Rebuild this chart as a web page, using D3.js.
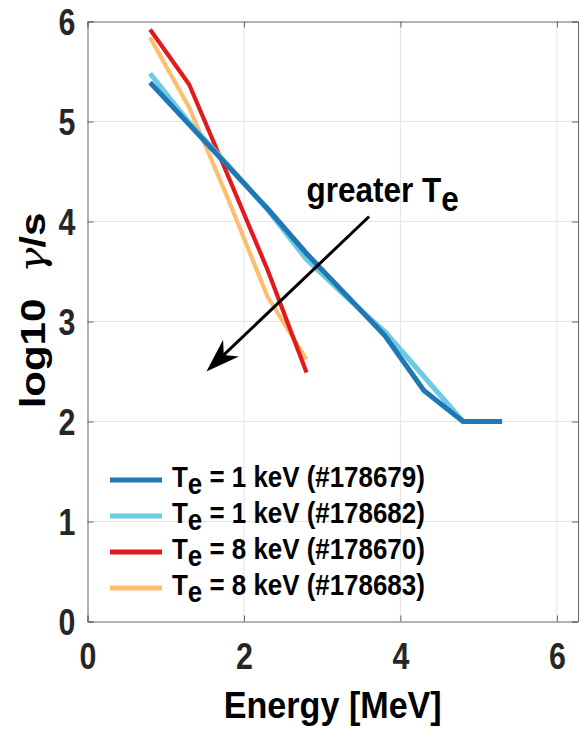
<!DOCTYPE html>
<html>
<head>
<meta charset="utf-8">
<script src="https://cdn.jsdelivr.net/npm/d3@7"></script>
<style>
  html, body { margin: 0; padding: 0; background: #fff; }
  svg { display: block; }
  text { font-family: "Liberation Sans", Arial, sans-serif; font-weight: bold; }
</style>
</head>
<body>
<svg id="chart" width="579" height="729"></svg>
<script>
// Energy grid [MeV] shared by all runs
const energy = [0.8, 1.3, 1.8, 2.3, 2.8, 3.3, 3.8, 4.3, 4.8, 5.3];

// log10 of gamma emission rate [1/s] per shot
const shot178679 = [5.39, 4.97, 4.55, 4.13, 3.68, 3.27, 2.86, 2.31, 2.00, 2.00];
const shot178682 = [5.48, 4.99, 4.56, 4.12, 3.62, 3.25, 2.90, 2.45, 2.00];
const shot178670 = [5.92, 5.37, 4.45, 3.52, 2.49];
const shot178683 = [5.84, 5.14, 4.22, 3.25, 2.62];

const seriesNames = ["(#178679)", "(#178682)", "(#178670)", "(#178683)"];
const seriesTe = ["1", "1", "8", "8"];
const seriesColors = ["#1f78b4", "#6ccae2", "#e31a1c", "#fdbf6f"];

const xTicks = [0, 2, 4, 6];
const yTicks = [0, 1, 2, 3, 4, 5, 6];

// Arrow annotation, data coordinates [E, log10]
const arrowTail = [3.60, 4.05];
const arrowTip = [1.52, 2.50];
const noteAnchor = [2.80, 4.20];

const series = [
  { name: seriesNames[0], te: seriesTe[0], color: seriesColors[0], ys: shot178679, w: 5 },
  { name: seriesNames[1], te: seriesTe[1], color: seriesColors[1], ys: shot178682, w: 5 },
  { name: seriesNames[2], te: seriesTe[2], color: seriesColors[2], ys: shot178670, w: 4.2 },
  { name: seriesNames[3], te: seriesTe[3], color: seriesColors[3], ys: shot178683, w: 4.2 }
];

const svg = d3.select("#chart");
const W = 579, H = 729;
const m = { left: 87.5, right: 1, top: 21.5, bottom: 107.5 };
const pw = W - m.left - m.right, ph = H - m.top - m.bottom;
const xMax = 6.27;

const x = d3.scaleLinear().domain([0, xMax]).range([m.left, m.left + pw]);
const y = d3.scaleLinear().domain([0, 6]).range([m.top + ph, m.top]);

// text squeezed horizontally to a given width (condensed look)
function condensedText(parent, px, py, size, anchor, width, build) {
  const g = parent.append("g");
  const t = g.append("text").attr("text-anchor", anchor).attr("fill", "#000")
    .style("font-size", size + "px");
  build(t);
  const w = t.node().getComputedTextLength();
  const sx = width / w;
  g.attr("transform", `translate(${px},${py}) scale(${sx},1)`);
  return g;
}

// grid
const grid = svg.append("g");
grid.selectAll("line.gx").data(xTicks.filter(d => d > 0)).join("line")
  .attr("x1", d => x(d)).attr("x2", d => x(d))
  .attr("y1", y(0)).attr("y2", y(6))
  .attr("stroke", "#e4e4e4").attr("stroke-width", 1);
grid.selectAll("line.gy").data(yTicks.filter(d => d > 0 && d < 6)).join("line")
  .attr("x1", x(0)).attr("x2", x(xMax))
  .attr("y1", d => y(d)).attr("y2", d => y(d))
  .attr("stroke", "#e4e4e4").attr("stroke-width", 1);

// lines (blue runs on top)
const line = d3.line().x(d => x(d[0])).y(d => y(d[1]));
[3, 2, 1, 0].forEach(i => {
  const s = series[i];
  const pts = s.ys.map((v, k) => [energy[k], v]);
  svg.append("path").datum(pts)
    .attr("d", line)
    .attr("fill", "none")
    .attr("stroke", s.color)
    .attr("stroke-width", s.w)
    .attr("stroke-linejoin", "round");
});

// axes: box with inward ticks on all four sides
const tickLen = 6;
const axisColor = "#666";
const tickSx = 0.82;
const axB = d3.axisBottom(x).tickValues(xTicks).tickSize(-tickLen).tickPadding(21).tickFormat(d3.format("d"));
const axT = d3.axisTop(x).tickValues(xTicks).tickSize(-tickLen).tickFormat("");
const axL = d3.axisLeft(y).tickValues(yTicks).tickSize(-tickLen).tickPadding(12).tickFormat(d3.format("d"));
const axR = d3.axisRight(y).tickValues(yTicks).tickSize(-tickLen).tickFormat("");

function styleAxis(g) {
  g.select(".domain").attr("stroke", axisColor).attr("stroke-width", 1);
  g.selectAll(".tick line").attr("stroke", axisColor).attr("stroke-width", 1);
  g.selectAll(".tick text").attr("fill", "#262626").style("font-size", "37px")
    .style("font-weight", "bold").style("font-family", '"Liberation Sans", Arial, sans-serif')
    .attr("transform", `scale(${tickSx},1)`);
}
svg.append("g").attr("transform", `translate(0,${y(0)})`).call(axB).call(styleAxis)
  .call(g => g.selectAll(".tick text").attr("dy", "0.71em"));
svg.append("g").attr("transform", `translate(0,${y(6)})`).call(axT).call(styleAxis);
svg.append("g").attr("transform", `translate(${x(0)},0)`).call(axL).call(styleAxis)
  .call(g => g.selectAll(".tick text").attr("dy", "0.36em").attr("x", -12 / tickSx));
svg.append("g").attr("transform", `translate(${x(xMax)},0)`).call(axR).call(styleAxis);

// x title
condensedText(svg, (x(0) + x(xMax)) / 2, 718, 37, "middle", 218, t => t.text("Energy [MeV]"));

// y title (rotated; glyph height squeezed along x)
const yt = svg.append("g")
  .attr("transform", `translate(45,${(y(0) + y(6)) / 2 - 11}) rotate(-90) scale(1,0.84)`)
  .append("text").attr("text-anchor", "middle").attr("fill", "#000")
  .style("font-size", "42px");
yt.append("tspan").text("log10");
yt.append("tspan").attr("dx", 26).style("font-weight", "normal").style("font-style", "italic")
  .style("font-family", '"DejaVu Serif", serif').text("γ");
yt.append("tspan").text("/s");

// arrow annotation
const p0 = [x(arrowTail[0]), y(arrowTail[1])];
const p1 = [x(arrowTip[0]), y(arrowTip[1])];
const ddx = p1[0] - p0[0], ddy = p1[1] - p0[1];
const len = Math.hypot(ddx, ddy);
const u = [ddx / len, ddy / len], nrm = [-u[1], u[0]];
const headL = 34, headW = 11.5, notch = 24;
svg.append("line")
  .attr("x1", p0[0]).attr("y1", p0[1])
  .attr("x2", p1[0] - u[0] * notch).attr("y2", p1[1] - u[1] * notch)
  .attr("stroke", "#000").attr("stroke-width", 3);
const head = [
  p1,
  [p1[0] - u[0] * headL + nrm[0] * headW, p1[1] - u[1] * headL + nrm[1] * headW],
  [p1[0] - u[0] * notch, p1[1] - u[1] * notch],
  [p1[0] - u[0] * headL - nrm[0] * headW, p1[1] - u[1] * headL - nrm[1] * headW]
];
svg.append("polygon").attr("points", head.map(p => p.join(",")).join(" ")).attr("fill", "#000");

condensedText(svg, x(noteAnchor[0]), y(noteAnchor[1]), 36, "start", 150, t => {
  t.append("tspan").text("greater T");
  t.append("tspan").attr("dy", 9).text("e");
});

// legend
const lg = svg.append("g").attr("transform", `translate(${m.left},0)`);
series.forEach((s, i) => {
  const ry = 480 + i * 36;
  lg.append("line").attr("x1", 22.5).attr("x2", 74.5).attr("y1", ry).attr("y2", ry)
    .attr("stroke", s.color).attr("stroke-width", 5);
  condensedText(lg, 84.5, ry + 7, 30, "start", 251, t => {
    t.append("tspan").text("T");
    t.append("tspan").attr("dy", 7).text("e");
    t.append("tspan").attr("dy", -7).text(` = ${s.te} keV ${s.name}`);
  });
});
</script>
</body>
</html>
